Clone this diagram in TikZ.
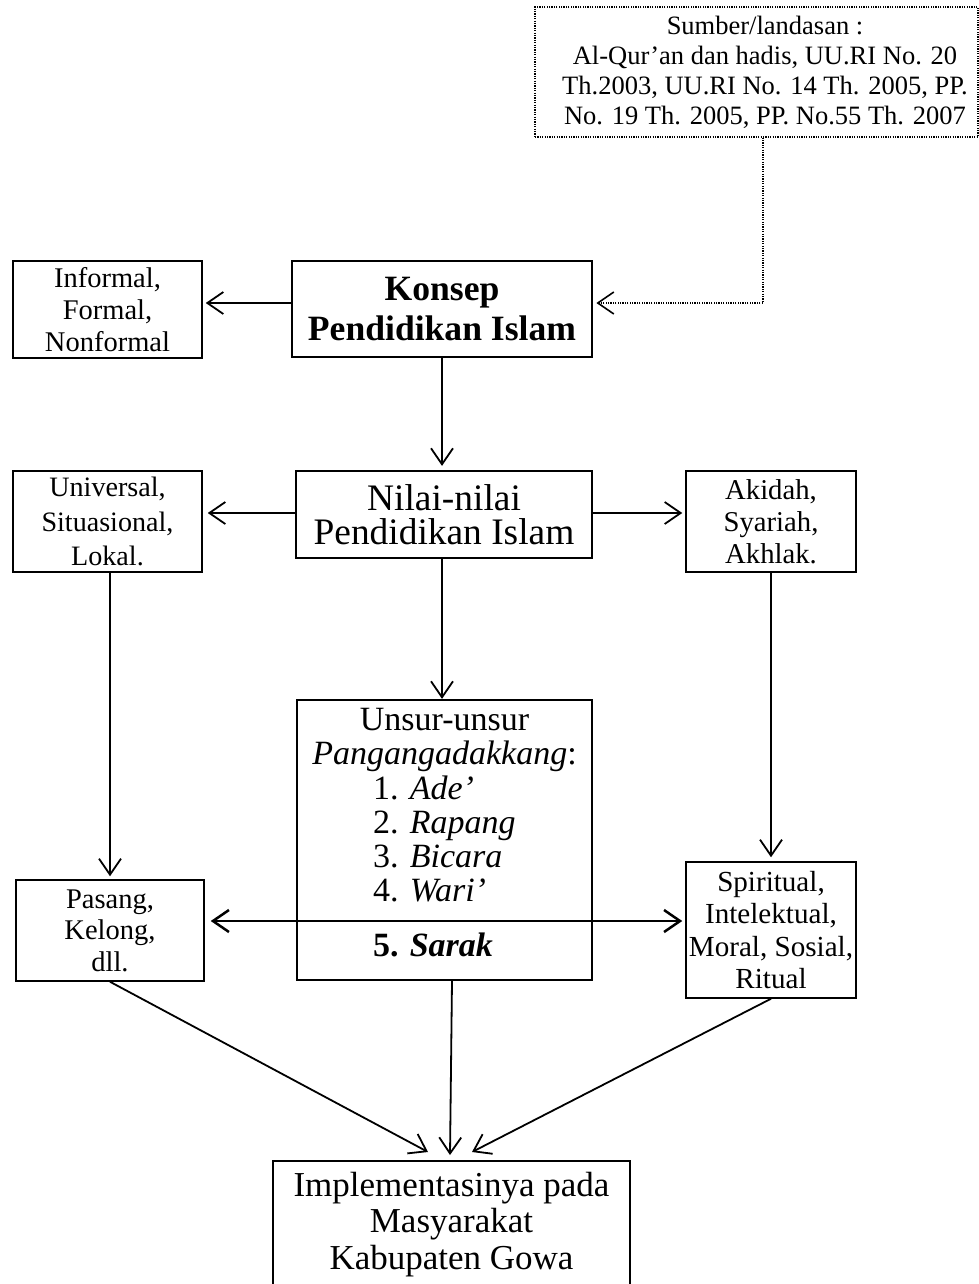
\documentclass[tikz,border=0pt]{standalone}
\usepackage{fontspec}
\setmainfont{Liberation Serif}
\usetikzlibrary{arrows.meta,calc}
\begin{document}
\begin{tikzpicture}[x=1pt,y=-1pt,
  box/.style={draw, line width=1.5pt, inner sep=0pt, align=center},
  conn/.style={line width=1.8pt, -{Straight Barb[length=16pt,width=22pt]}},
  dotconn/.style={line width=1.2pt, dash pattern=on 1.2pt off 1.2pt, -{Straight Barb[length=16pt,width=22pt,line width=1.6pt]}},
]
\useasboundingbox (0,0) rectangle (979,1284);

% source box
\node[draw, line width=1.2pt, dash pattern=on 1.2pt off 1.2pt, minimum width=443pt, minimum height=130pt, inner sep=0pt,
  label={[font=\fontsize{26.5}{30}\selectfont, align=center, xshift=8.5pt, inner sep=0pt]center:{Sumber/landasan :\\Al-Qur’an dan hadis, UU.RI No. 20\\Th.2003, UU.RI No. 14 Th. 2005, PP.\\No. 19 Th. 2005, PP. No.55 Th. 2007}}]
  (sumber) at (756.5,72) {};

\node[box, line width=2.8pt, minimum width=300pt, minimum height=96pt, font=\fontsize{35.6}{40}\selectfont\bfseries]
  (konsep) at (442,309) {Konsep\\Pendidikan Islam};
\node[box, minimum width=189pt, minimum height=97pt, font=\fontsize{28.5}{32}\selectfont]
  (informal) at (107.5,309.5) {Informal,\\Formal,\\Nonformal};

\node[box, line width=2.3pt, minimum width=296pt, minimum height=87pt, font=\fontsize{37.4}{34}\selectfont]
  (nilai) at (444,514.5) {Nilai-nilai\\Pendidikan Islam};
\node[box, minimum width=189pt, minimum height=101pt, font=\fontsize{28.1}{34.5}\selectfont]
  (universal) at (107.5,521.5) {Universal,\\Situasional,\\Lokal.};
\node[box, minimum width=170pt, minimum height=101pt, font=\fontsize{28.7}{32}\selectfont]
  (akidah) at (771,521.5) {Akidah,\\Syariah,\\Akhlak.};

\node[box, line width=2.3pt, minimum width=295pt, minimum height=280pt, font=\fontsize{34}{34.2}\selectfont]
  (unsur) at (444.5,840) {Unsur-unsur\\
  \textit{Pangangadakkang}:\\
  \makebox[143pt][l]{1. \textit{Ade’}}\\
  \makebox[143pt][l]{2. \textit{Rapang}}\\
  \makebox[143pt][l]{3. \textit{Bicara}}\\
  \makebox[143pt][l]{4. \textit{Wari’}}\\[21pt]
  \makebox[143pt][l]{\textbf{5. \textit{Sarak}}}\rule[-14.5pt]{0pt}{14.5pt}};

\node[box, minimum width=188pt, minimum height=101pt, font=\fontsize{28.5}{31.5}\selectfont]
  (pasang) at (110,930.5) {Pasang,\\Kelong,\\dll.};
\node[box, minimum width=170pt, minimum height=136pt, font=\fontsize{29.1}{32.3}\selectfont]
  (spiritual) at (771,930) {Spiritual,\\Intelektual,\\Moral, Sosial,\\Ritual};

\node[box, line width=1.8pt, anchor=north, minimum width=357pt, minimum height=127pt, font=\fontsize{35}{36.5}\selectfont]
  (impl) at (451.5,1160) {Implementasinya pada\\Masyarakat\\Kabupaten Gowa};

% connectors
\draw[dotconn, shorten >=3pt] ([xshift=6.5pt]sumber.south) |- ([yshift=6pt]konsep.east);
\draw[conn, shorten >=3pt] ([yshift=6pt]konsep.west) -- ([yshift=6pt]konsep.west -| informal.east);
\draw[conn, shorten >=4pt] (konsep.south) -- (konsep.south |- nilai.north);
\draw[conn, shorten >=5pt] ([yshift=1.5pt]nilai.west) -- ([yshift=1.5pt]nilai.west -| universal.east);
\draw[conn, shorten >=3pt] ([yshift=1.5pt]nilai.east) -- ([yshift=1.5pt]nilai.east -| akidah.west);
\draw[conn] ([xshift=-2pt]nilai.south) -- ([xshift=-2pt]nilai.south |- unsur.north);
\draw[conn, shorten >=3pt] ([xshift=2.5pt]universal.south) -- ([xshift=2.5pt]universal.south |- pasang.north);
\draw[conn, shorten >=4pt] (akidah.south) -- (akidah.south |- spiritual.north);
\draw[line width=2.5pt, {Straight Barb[length=16pt,width=22pt]}-{Straight Barb[length=16pt,width=22pt]}, shorten <=6pt, shorten >=3pt]
  ([yshift=9.5pt]pasang.east) -- ([yshift=9.5pt]pasang.east -| spiritual.west);
\draw[conn] (pasang.south) -- ($(impl.north)+(-23.5,-8)$);
\draw[conn] ([xshift=7.5pt]unsur.south) -- ($(impl.north)+(-1.5,-5)$);
\draw[conn] (spiritual.south) -- ($(impl.north)+(20.5,-8)$);
\end{tikzpicture}
\end{document}
